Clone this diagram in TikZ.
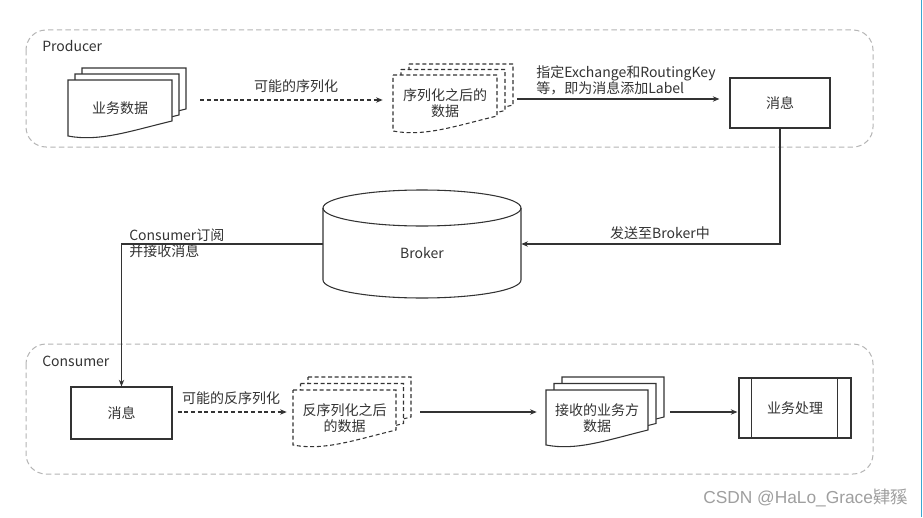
\documentclass[tikz,border=0pt]{standalone}
\usepackage{fontspec}
\setmainfont{Noto Sans CJK SC}
\newfontfamily\wmfont{Liberation Sans}
\newfontfamily\wmcjk{Noto Sans CJK SC}
\usetikzlibrary{arrows.meta,calc}
\definecolor{ln}{HTML}{333333}
\definecolor{grpc}{HTML}{B5B5B5}
\definecolor{edgec}{HTML}{3BA6D0}
\newcommand\docshape[5]{\draw[#1] (#2,#3) -- (#4,#3) -- (#4,{#5-17}) .. controls ({#2+0.6*(#4-#2)},{#5-7}) and ({#2+0.3*(#4-#2)},{#5+4}) .. (#2,{#5-2}) -- cycle;}
\tikzset{
  grp/.style={draw=grpc, dashed, dash pattern=on 4pt off 2.5pt, line width=0.75pt, rounded corners=15pt},
  txt/.style={inner sep=0pt, text=ln, font=\fontsize{10.5pt}{12pt}\selectfont, align=center},
  box/.style={draw=ln, line width=0.8pt, fill=white, inner sep=0pt, font=\fontsize{10.5pt}{12pt}\selectfont, text=ln},
  docsolid/.style={draw=ln, line width=0.8pt, fill=white},
  docdash/.style={draw=ln, line width=0.8pt, fill=white, dash pattern=on 3pt off 2pt},
  sar/.style={draw=ln, line width=0.8pt, -{Stealth[length=5pt,width=4pt]}},
  dar/.style={draw=ln, line width=0.8pt, dash pattern=on 3pt off 2pt, -{Stealth[length=5pt,width=4pt]}},
  grplabel/.style={inner sep=0pt, text=ln, font=\fontsize{10.5pt}{12pt}\selectfont, anchor=west}
}
\begin{document}
\begin{tikzpicture}[x=0.75pt, y=-0.75pt]
\useasboundingbox[fill=white] (0,0) rectangle (923,517);
% groups
\draw[grp] (26,30) rectangle (873,147);
\draw[grp] (26,344) rectangle (873,474);
\node[grplabel] (prodlab) at (42,46) {Producer};
\node[grplabel] (conslab) at (42,361) {Consumer};
% document stack A (solid)
\docshape{docsolid}{82}{68}{186}{126}
\docshape{docsolid}{75}{74}{179}{132}
\docshape{docsolid}{68}{80}{172}{138}
\node[txt, minimum width=78pt, minimum height=42.75pt] (dA) at (120,108.5) {业务数据};
% document stack B (dashed)
\docshape{docdash}{409}{64}{513}{122}
\docshape{docdash}{401}{69.5}{505}{127.5}
\docshape{docdash}{393}{75}{497}{133}
\node[txt, minimum width=78pt, minimum height=42.75pt] (dB) at (445,103.5) {序列化之后的\\数据};
% message box 1
\node[box, minimum width=75pt, minimum height=37.5pt] (msg1) at (780,103) {消息};
% broker cylinder
\draw[ln, line width=0.8pt, fill=white] (323,208) -- (323,280) arc[start angle=180, end angle=360, x radius=74.25pt, y radius=13.5pt] -- (521,208);
\draw[ln, line width=0.8pt] (422,208) ellipse [x radius=74.25pt, y radius=13.5pt];
\node[txt, minimum width=148.5pt, minimum height=81pt,
      label={[txt, yshift=-7pt]center:Broker}] (broker) at (422,244) {};
% message box 2
\node[box, minimum width=75.75pt, minimum height=39pt] (msg2) at (121.5,413) {消息};
% document stack C (dashed)
\docshape{docdash}{308}{377}{411}{434}
\docshape{docdash}{300.5}{383.5}{403.5}{440.5}
\docshape{docdash}{293}{390}{396}{447}
\node[txt, minimum width=77.25pt, minimum height=42.75pt] (dC) at (344.5,418.5) {反序列化之后\\的数据};
% document stack D (solid)
\docshape{docsolid}{562}{377}{664}{434}
\docshape{docsolid}{554}{383.5}{656}{440.5}
\docshape{docsolid}{546}{390}{648}{447}
\node[txt, minimum width=76.5pt, minimum height=42.75pt] (dD) at (597,418.5) {接收的业务方\\数据};
% process box
\node[box, minimum width=84pt, minimum height=45pt] (proc) at (795,408) {业务处理};
\draw[ln, line width=0.8pt] ($(proc.north west)+(13,0)$) -- ($(proc.south west)+(13,0)$);
\draw[ln, line width=0.8pt] ($(proc.north east)+(-14,0)$) -- ($(proc.south east)+(-14,0)$);
% connectors
\draw[dar] ([shift={(28,-8.5)}]dA.east) -- ([shift={(-10,-3.5)}]dB.west);
\node[txt] (l1) at (296,86) {可能的序列化};
\draw[sar] ([shift={(20,-4.5)}]dB.east) -- ([shift={(-10,-4)}]msg1.west);
\node[txt, anchor=west, align=left] (l2) at (536,80) {指定Exchange和RoutingKey\\等，即为消息添加Label};
\draw[sar] (msg1.south) |- (broker.east);
\node[txt] (l3) at (660,233) {发送至Broker中};
\draw[sar] (broker.west) -| (msg2.north);
\node[txt, anchor=west, align=left] (l4) at (129,243.5) {Consumer订阅\\并接收消息};
\draw[dar] ([shift={(5,-1)}]msg2.east) -- ([shift={(-6,-6.5)}]dC.west);
\node[txt] (l5) at (231,398) {可能的反序列化};
\draw[sar] ([shift={(24,-6.5)}]dC.east) -- ([shift={(-9,-6.5)}]dD.west);
\draw[sar] ([shift={(22,-6.5)}]dD.east) -- ([shift={(-1,4)}]proc.west);
% watermark and screen edge
\node[anchor=east, inner sep=0pt, text=gray!75, font=\wmfont\fontsize{13pt}{14pt}\selectfont] (wm) at (908,498) {CSDN @HaLo\_Grace{\wmcjk 肄豯}};
\draw[edgec, line width=1.2pt] (921.5,0) -- (921.5,517);
\end{tikzpicture}
\end{document}
